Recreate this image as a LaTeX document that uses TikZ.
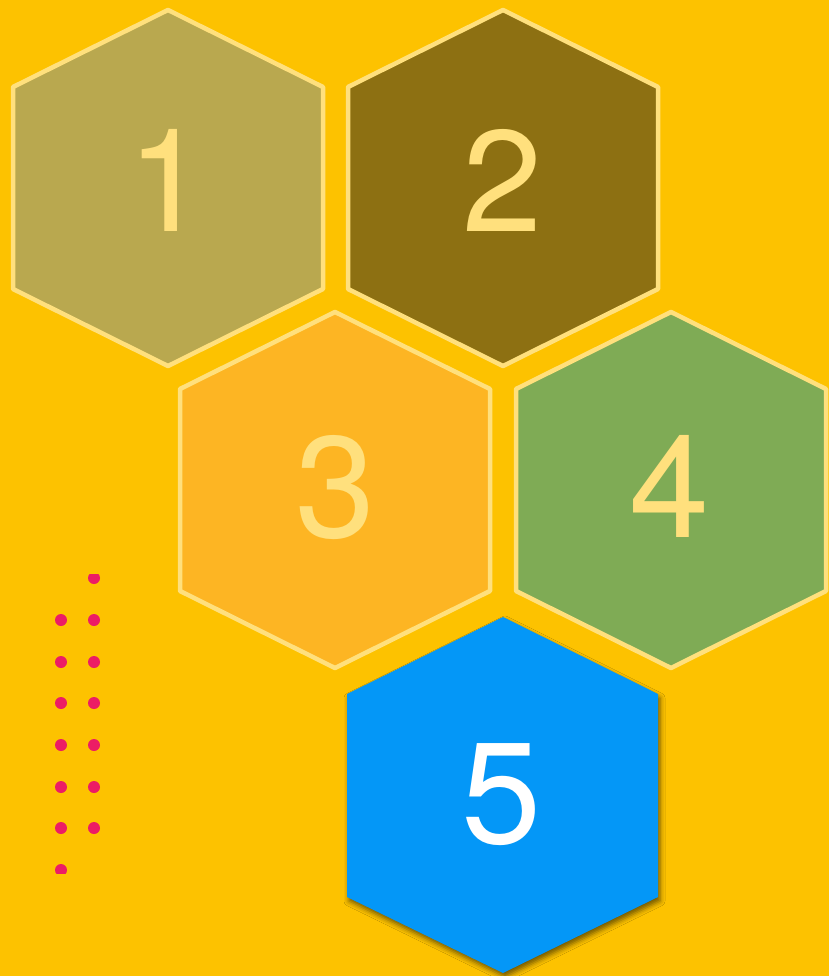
\documentclass[tikz,border=0pt]{standalone}
\usepackage{fontspec}
\setmainfont{TeX Gyre Heros}
\usetikzlibrary{shadows.blur}
\definecolor{bg}{HTML}{FDC200}
\definecolor{hexA}{HTML}{B9A84F}
\definecolor{hexB}{HTML}{8D7012}
\definecolor{hexC}{HTML}{FDB523}
\definecolor{hexD}{HTML}{7FAB55}
\definecolor{hexE}{HTML}{0497F7}
\definecolor{edge}{HTML}{FFE07D}
\definecolor{dotc}{HTML}{EC1C65}
\tikzset{
  pics/hex/.style={code={
    \path[pic actions] (0,-178) -- (155,-101) -- (155,101) -- (0,178)
      -- (-155,101) -- (-155,-101) -- cycle;}},
  hexline/.style={draw=edge, line width=4.5pt, line join=round},
  digit/.style={anchor=base, text=edge, font=\fontsize{144}{150}\selectfont, inner sep=0pt},
  dotmark/.style={fill=dotc, draw=none}
}
\begin{document}
\begin{tikzpicture}[x=1pt,y=-1pt]
\useasboundingbox (0,0) rectangle (829,976);
\fill[bg] (0,0) rectangle (829,976);
% hexagons
\pic[hexline, fill=hexA] at (168,188) {hex};
\pic[hexline, fill=hexB] at (503,188) {hex};
\pic[hexline, fill=hexC] at (335,490) {hex};
\pic[hexline, fill=hexD] at (671,490) {hex};
\path[fill=hexE, blur shadow={shadow xshift=2pt, shadow yshift=-4pt, shadow opacity=55, shadow blur radius=5pt}]
  (503,617) -- (658,694) -- (658,897) -- (503,973) -- (347,897) -- (347,694) -- cycle;
% digits
\node[digit] (d1) at (168,232) {1};
\node[digit] (d2) at (503,232) {2};
\node[digit] (d3) at (336,537) {3};
\node[digit] (d4) at (670,537) {4};
\node[digit, text=white] (d5) at (502,843) {5};
% dots
\begin{scope}
\clip (0,574) rectangle (200,873);
\foreach \y in {578,620,662,703,745,787,828} \fill[dotmark] (94,\y) circle (6);
\foreach \y in {620,662,703,745,787,828,870} \fill[dotmark] (61,\y) circle (6);
\end{scope}
\end{tikzpicture}
\end{document}
